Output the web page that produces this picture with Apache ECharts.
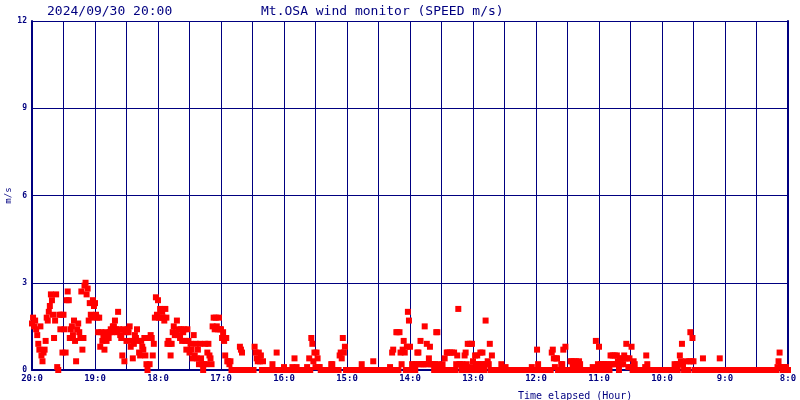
<!DOCTYPE html>
<html>
<head>
<meta charset="utf-8">
<script src="https://cdn.jsdelivr.net/npm/echarts@6/dist/echarts.min.js"></script>
<style>
html,body{margin:0;padding:0;background:#fff;}
#chart{width:800px;height:400px;}
</style>
</head>
<body>
<div id="chart"></div>
<script>
// Title texts
const dateTitle = '2024/09/30 20:00';
const mainTitle = 'Mt.OSA wind monitor (SPEED m/s)';
const xAxisTitle = 'Time elapsed (Hour)';
const yAxisTitle = 'm/s';

// Time axis: minutes elapsed since 20:00, going back to 8:00
const startHour = 20;
const spanMinutes = 720;
const gridStepMinutes = 30;
const yTicks = [0, 3, 6, 9, 12];

// Wind speed (m/s), one reading per minute elapsed (0 = 20:00 ... 720 = 8:00)
const speed20 = [1.6,1.8,1.5,1.7,1.4,1.2,0.9,0.7,1.5,0.5, 0.3,0.6,0.7,1.0,1.8,1.7,2.0,2.2,2.6,2.4, 1.9,1.1,1.7,2.6,0.1,0.0,1.9,1.4,1.9,0.6,
  1.9,1.4,0.6,2.4,2.7,2.4,1.1,1.4,1.5,1.2, 1.7,1.0,0.3,1.4,1.6,1.3,1.1,2.7,0.7,1.1, 2.9,3.0,2.6,2.8,1.7,2.3,1.9,1.8,2.4,2.2];
const speed19 = [2.3,1.9,1.8,1.3,1.8,0.8,1.3,1.0,1.2,0.7, 1.3,1.0,1.2,1.1,1.3,1.4,1.3,1.5,1.5,1.7, 1.4,1.3,2.0,1.4,1.2,1.1,0.5,1.4,0.3,1.3,
  1.0,1.4,1.3,1.5,0.8,1.0,0.4,0.9,1.2,1.1, 1.4,1.0,0.6,0.5,1.0,0.8,0.7,1.1,0.5,0.2, 0.0,1.1,0.2,1.2,1.1,0.5,0.9,1.8,2.5,1.9];
const speed18 = [2.4,1.8,2.1,1.8,2.0,1.8,1.7,2.1,1.8,0.9, 1.0,0.9,0.5,0.9,1.3,1.5,1.2,1.3,1.7,1.2, 1.4,1.1,1.4,1.0,1.3,1.4,1.0,0.7,1.4,1.0,
  0.6,0.9,0.7,0.4,1.2,0.5,0.9,0.4,0.7,0.2, 0.9,0.4,0.2,0.0,0.2,0.9,0.2,0.6,0.9,0.5, 0.4,0.2,1.5,1.8,1.4,1.8,1.5,1.4,1.8,1.4];
const speed17 = [1.4,1.1,1.3,1.0,0.5,1.1,0.3,0.3,0.2,0.3, 0,0,0,0,0,0,0,0,0.8,0.7, 0.6,0,0,0,0,0,0,0,0,0,
  0,0,0.8,0.6,0.4,0.3,0.6,0.3,0.5,0, 0.3,0,0,0,0,0,0,0,0,0.2, 0,0,0,0.6,0,0,0,0,0,0];
const speed16 = [0.1,0,0,0,0,0,0,0,0.1,0, 0.4,0,0.1,0,0,0,0,0,0,0, 0,0,0.1,0,0.4,0,1.1,0.9,0.3,0.6,
  0.1,0.6,0.4,0.1,0.1,0,0,0,0,0, 0,0,0,0,0,0.2,0.2,0,0,0, 0,0,0,0.5,0.6,0.4,1.1,0.6,0.8,0];
const speed15 = [0,0,0,0,0,0,0,0,0,0, 0,0,0,0,0.2,0,0,0,0,0, 0,0,0,0,0,0.3,0,0,0,0,
  0,0,0,0,0,0,0,0,0,0, 0,0.1,0,0.6,0.7,0,0,1.3,1.3,0, 1.3,0.6,0.2,0.7,1.0,0.6,0,0.8,2.0,1.7];
const speed14 = [0.8,0,0.2,0,0.2,0,0.2,0.6,0.6,0.2, 1.0,0.2,0.2,0.2,1.5,0.2,0.9,0.2,0.4,0.8, 0.2,0.2,0.2,0,0.2,1.3,1.3,0.2,0,0,
  0,0.2,0,0.4,0,0.6,0.6,0,0.6,0, 0.6,0,0.6,0,0.2,0.5,2.1,0.2,0.2,0, 0.2,0,0.5,0.6,0.2,0.9,0,0.9,0.1,0.9];
const speed13 = [0.3,0,0.5,0.2,0.5,0.2,0,0.6,0.2,0.6, 0.2,0,1.7,0.2,0.3,0.2,0.9,0,0.5,0, 0,0,0,0,0,0,0,0.2,0,0,
  0,0.1,0,0,0,0,0,0,0,0, 0,0,0,0,0,0,0,0,0,0, 0,0,0,0,0,0,0.1,0,0,0];
const speed12 = [0,0.7,0.2,0,0,0,0,0,0,0, 0,0,0,0,0,0.6,0.7,0.4,0.1,0.4, 0.4,0,0,0,0.2,0.2,0.7,0,0.8,0,
  0,0,0,0.3,0.3,0.2,0.3,0,0.3,0.2, 0,0.3,0.2,0,0,0,0,0,0,0, 0,0,0,0,0.1,0,0,1.0,0,0.2];
const speed11 = [0.8,0,0.2,0,0.2,0.2,0,0.2,0,0.2, 0,0.5,0.2,0.5,0.2,0.5,0.2,0.5,0.3,0, 0.4,0.2,0.4,0.2,0.5,0.4,0.9,0.4,0.1,0.4,
  0.1,0.8,0,0.3,0.2,0,0,0,0,0, 0,0,0,0,0.1,0.5,0.2,0,0,0, 0,0,0,0,0,0,0,0,0,0];
const speed10 = [0,0,0,0,0,0,0,0,0,0, 0,0,0.2,0,0.2,0,0.2,0.5,0.3,0.9, 0.2,0,0,0.3,0,0,0.3,1.3,0.3,1.1,
  0.3,0,0,0,0,0,0,0,0,0.4, 0,0,0,0,0,0,0,0,0,0, 0,0,0,0,0,0.4,0,0,0,0];
const speed09 = [0,0,0,0,0,0,0,0,0,0, 0,0,0,0,0,0,0,0,0,0, 0,0,0,0,0,0,0,0,0,0,
  0,0,0,0,0,0,0,0,0,0, 0,0,0,0,0,0,0,0,0,0, 0.1,0.3,0.6,0.1,0.1,0,0.1,0,0.1,0, 0];

const speeds = [].concat(speed20, speed19, speed18, speed17, speed16, speed15,
  speed14, speed13, speed12, speed11, speed10, speed09);

const navy = '#000080';
const mono = '"DejaVu Sans Mono", "Liberation Mono", monospace';

const chart = echarts.init(document.getElementById('chart'), null, {renderer: 'canvas'});
chart.setOption({
  animation: false,
  backgroundColor: '#ffffff',
  title: [
    {text: dateTitle, left: 42, top: 0, textStyle: {fontFamily: mono, fontSize: 13, fontWeight: 'normal', color: navy}},
    {text: mainTitle, left: 256, top: 0, textStyle: {fontFamily: mono, fontSize: 13, fontWeight: 'normal', color: navy}},
    {text: xAxisTitle, left: 513, top: 386, textStyle: {fontFamily: mono, fontSize: 10, fontWeight: 'normal', color: navy}}
  ],
  grid: {left: 32, right: 12, top: 21, bottom: 30, containLabel: false, outerBoundsMode: 'none'},
  xAxis: {
    type: 'value', min: 0, max: spanMinutes, interval: gridStepMinutes,
    axisLine: {show: true, lineStyle: {color: navy, width: 2}},
    axisTick: {show: false},
    splitLine: {show: true, lineStyle: {color: navy, width: 1}},
    axisLabel: {
      color: navy, fontFamily: mono, fontSize: 9, fontWeight: 'bold', margin: 4,
      showMinLabel: true, showMaxLabel: true,
      formatter: function (v) { return v % 60 === 0 ? (startHour - v / 60) + ':0' : ''; }
    }
  },
  yAxis: [{
    type: 'value', min: yTicks[0], max: yTicks[yTicks.length - 1], interval: yTicks[1] - yTicks[0],
    name: yAxisTitle, nameLocation: 'middle', nameRotate: 90, nameGap: 19, nameMoveOverlap: false,
    nameTextStyle: {color: navy, fontFamily: mono, fontSize: 9},
    axisLine: {show: true, lineStyle: {color: navy, width: 2}},
    axisTick: {show: false},
    splitLine: {show: true, lineStyle: {color: navy, width: 1}},
    axisLabel: {color: navy, fontFamily: mono, fontSize: 8, fontWeight: 'bold', margin: 5}
  }, {
    type: 'value', min: yTicks[0], max: yTicks[yTicks.length - 1], position: 'right',
    axisLine: {show: true, lineStyle: {color: navy, width: 2}},
    axisTick: {show: false}, axisLabel: {show: false}, splitLine: {show: false}
  }],
  series: [{
    type: 'scatter',
    symbol: 'rect',
    symbolSize: 6,
    clip: false,
    itemStyle: {color: '#ff0000', opacity: 1},
    data: speeds.map(function (v, i) { return [i, v]; })
  }]
});
</script>
</body>
</html>
